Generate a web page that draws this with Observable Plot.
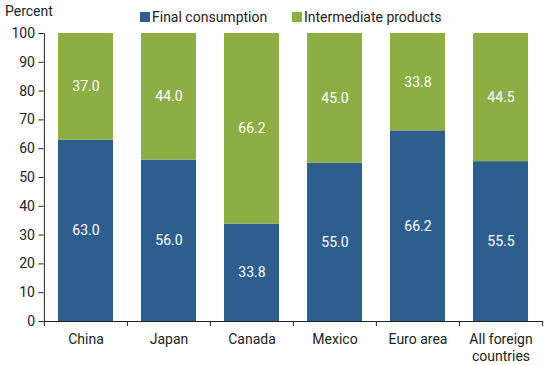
<!DOCTYPE html>
<html><head><meta charset="utf-8">
<script src="https://cdn.jsdelivr.net/npm/d3@7"></script>
<script src="https://cdn.jsdelivr.net/npm/@observablehq/plot@0.6"></script>
<style>
body{margin:0;background:#fff;font-family:Roboto,"Liberation Sans",Arial,sans-serif;}
#wrap{position:relative;width:550px;height:365px;}
.lbl{position:absolute;font-size:14px;color:#222;white-space:nowrap;line-height:16px;}
.sw{display:inline-block;width:10px;height:10px;margin-right:2px;vertical-align:-0px;}
</style></head>
<body><div id="wrap"></div>
<script>
const categories = ["China","Japan","Canada","Mexico","Euro area","All foreign\ncountries"];
const finalConsumption = [63.0, 56.0, 33.8, 55.0, 66.2, 55.5];
const intermediateProducts = [37.0, 44.0, 66.2, 45.0, 33.8, 44.5];
const seriesNames = ["Final consumption","Intermediate products"];
const colors = ["#2e5e8e","#8cae45"];
const yTicks = [0,10,20,30,40,50,60,70,80,90,100];

const rows = [];
categories.forEach((c,i)=>{
  rows.push({cat:c, series:seriesNames[0], v:finalConsumption[i], y1:0, y2:finalConsumption[i]});
  rows.push({cat:c, series:seriesNames[1], v:intermediateProducts[i], y1:finalConsumption[i], y2:finalConsumption[i]+intermediateProducts[i]});
});
const W=550, ml=43.5, mr=7;
const step=(W-ml-mr)/categories.length;

const chart = Plot.plot({
  width: W, height: 365,
  marginTop: 33, marginBottom: 44, marginLeft: ml, marginRight: mr,
  style:{fontFamily:"Roboto, 'Liberation Sans', Arial, sans-serif", fontSize:"14px", color:"#222", background:"#fff"},
  x:{domain:categories, paddingInner:0.34, paddingOuter:0.17, align:0.5, label:null},
  y:{domain:[0,100], label:null},
  color:{domain:seriesNames, range:colors},
  marks:[
    Plot.rectY(rows,{x:"cat", y1:"y1", y2:"y2", fill:"series"}),
    Plot.text(rows,{x:"cat", y:d=>(d.y1+d.y2)/2, text:d=>d.v.toFixed(1), fill:"white", fontSize:14}),
    Plot.axisY({ticks:yTicks, tickSize:5, tickPadding:4, label:null, fontSize:14, stroke:"#222"}),
    Plot.axisX({tickSize:0, tickPadding:10, label:null, fontSize:14, lineHeight:1.25}),
    Plot.ruleY([0],{stroke:"#222"}),
    Plot.ruleX(categories,{x:d=>d, y1:0, y2:-1.75, dx:-step/2, stroke:"#222"}),
    Plot.ruleX([categories[categories.length-1]],{x:d=>d, y1:0, y2:-1.75, dx:step/2, stroke:"#222"}),
    Plot.ruleX([categories[0]],{x:d=>d, y1:0, y2:100, dx:-step/2, stroke:"#222"})
  ]
});
const wrap=document.getElementById("wrap");
wrap.appendChild(chart);
const mk=(html,l,t)=>{const d=document.createElement("div");d.className="lbl";d.innerHTML=html;d.style.left=l+"px";d.style.top=t+"px";wrap.appendChild(d);};
mk("Percent",5,3);
mk(`<span class="sw" style="background:${colors[0]}"></span>${seriesNames[0]}`,140,9);
mk(`<span class="sw" style="background:${colors[1]}"></span>${seriesNames[1]}`,292,9);
</script></body></html>
